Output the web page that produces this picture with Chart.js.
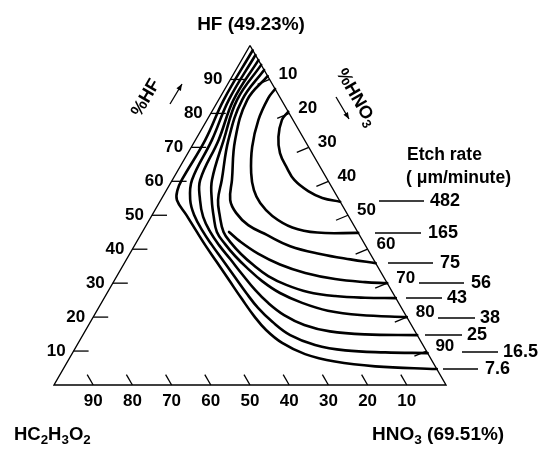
<!DOCTYPE html>
<html><head><meta charset="utf-8">
<script src="https://cdn.jsdelivr.net/npm/chart.js@4.4.0/dist/chart.umd.min.js"></script>
<style>html,body{margin:0;padding:0;background:#fff}canvas{display:block}</style>
</head><body>
<canvas id="c" width="549" height="457"></canvas>
<script>
// ---- data (ternary composition, percent) ----
const tickValues = [10, 20, 30, 40, 50, 60, 70, 80, 90];
const etchRates = ['482', '165', '75', '56', '43', '38', '25', '16.5', '7.6'];
// each curve: [HF %, HNO3 %]  (HC2H3O2 = 100 - HF - HNO3)
const curve482 = [[80.5,19.5],[78.1,19.1],[73.1,20.7],[68.3,23.5],[63.9,27.5],[60.4,31.1],[57.1,36.3],[55.1,40.9],[54.0,46.0]];
const curve165 = [[87.2,12.8],[84.5,12.4],[78.1,13.1],[70.1,15.5],[62.4,19.1],[57.4,22.3],[53.6,25.8],[49.8,30.8],[46.4,37.6],[44.9,44.7],[44.8,55.2]];
const curve75 = [[91.0,9.0],[84.0,7.3],[72.2,10.1],[60.4,15.2],[54.5,17.7],[50.7,21.1],[47.1,26.0],[44.2,32.2],[40.9,39.8],[38.6,48.6],[37.0,57.1],[35.9,64.1]];
const curve56 = [[45.1,22.1],[42.3,26.3],[38.7,32.7],[35.5,39.9],[33.0,47.6],[31.2,56.1],[30.3,64.2],[30.0,70.0]];
const curve43 = [[92.8,7.2],[84.0,6.0],[72.2,8.4],[60.4,12.6],[54.5,14.6],[49.8,17.4],[45.1,20.7],[41.8,24.3],[38.6,28.4],[35.4,33.1],[32.1,38.6],[29.5,44.5],[27.4,51.1],[26.2,58.6],[25.7,66.5],[25.6,74.4]];
const curve38 = [[94.3,5.7],[84.0,4.7],[72.2,7.2],[60.4,10.1],[54.5,13.0],[49.5,16.0],[45.1,19.0],[41.5,22.9],[38.0,27.2],[34.5,32.0],[30.6,37.8],[27.1,44.1],[24.2,51.2],[21.9,58.9],[20.6,67.8],[20.0,80.0]];
const curve25 = [[95.7,4.3],[84.0,3.8],[72.2,5.9],[60.4,7.1],[54.5,10.0],[49.5,13.3],[45.1,17.3],[41.2,21.5],[37.1,26.4],[32.7,31.6],[28.0,37.3],[24.2,42.5],[20.6,48.4],[17.7,55.0],[15.8,62.5],[14.9,71.9],[14.7,85.3]];
const curve16_5 = [[97.2,2.8],[84.0,2.6],[72.2,4.2],[60.4,5.0],[54.5,7.5],[50.1,10.7],[45.1,15.5],[41.2,19.7],[37.1,24.3],[32.1,29.9],[27.1,35.5],[22.7,40.7],[18.6,46.4],[14.7,52.9],[11.8,60.7],[10.2,69.2],[9.6,79.7],[9.4,90.6]];
const curve7_6 = [[98.6,1.4],[84.0,1.3],[72.2,2.5],[60.4,2.4],[57.4,2.8],[54.5,4.1],[50.1,8.7],[45.1,13.9],[40.9,18.3],[36.5,23.1],[30.9,29.2],[25.3,35.3],[20.3,40.9],[16.2,46.0],[12.4,52.0],[9.1,59.5],[6.9,68.2],[5.5,79.2],[4.7,95.3]];
const triangle = [[100,0],[0,0],[0,100],[100,0]];

// ---- layout (pixels) ----
const FONT = '"Liberation Sans", Arial, sans-serif';
const legendLayout = {
  y:  [201,233,263,283,298,318,335,352,369],
  x0: [379,375,388,419,406,438,425,462,443],
  x1: [424,421,433,464,442,475,462,498,478],
  tx: [430,428,440,471,447,480,467,503,485]
};

const S3 = Math.sqrt(3) / 2;
const toXY = ([hf, hno3]) => ({ x: hno3 + hf / 2, y: hf * S3 });

const curves = [curve482, curve165, curve75, curve56, curve43, curve38, curve25, curve16_5, curve7_6];
const datasets = curves.map((c, i) => ({
  label: etchRates[i], data: c.map(toXY), showLine: true, borderColor: '#000',
  borderWidth: 2.6, pointRadius: 0, tension: 0.4, fill: false, borderCapStyle: 'round', borderJoinStyle: 'round'
}));
datasets.push({ label: 'frame', data: triangle.map(toXY), showLine: true, borderColor: '#000',
  borderWidth: 1.4, pointRadius: 0, tension: 0, fill: false, borderJoinStyle: 'miter' });

function txt(ctx, s, x, y, size, align, base) {
  ctx.font = 'bold ' + size + 'px ' + FONT;
  ctx.textAlign = align || 'left';
  ctx.textBaseline = base || 'middle';
  ctx.fillText(s, x, y);
}
function subText(ctx, parts, x, y, size) {
  let cx = x;
  parts.forEach(([s, sub]) => {
    const sz = sub ? size * 0.72 : size;
    ctx.font = 'bold ' + sz + 'px ' + FONT;
    ctx.textAlign = 'left'; ctx.textBaseline = 'alphabetic';
    ctx.fillText(s, cx, sub ? y + size * 0.2 : y);
    cx += ctx.measureText(s).width;
  });
  return cx - x;
}
function line(ctx, x0, y0, x1, y1) { ctx.beginPath(); ctx.moveTo(x0, y0); ctx.lineTo(x1, y1); ctx.stroke(); }
function arrow(ctx, x0, y0, x1, y1) {
  line(ctx, x0, y0, x1, y1);
  const a = Math.atan2(y1 - y0, x1 - x0), L = 7;
  ctx.beginPath(); ctx.moveTo(x1, y1);
  ctx.lineTo(x1 - L * Math.cos(a - 0.38), y1 - L * Math.sin(a - 0.38));
  ctx.lineTo(x1 - L * Math.cos(a + 0.38), y1 - L * Math.sin(a + 0.38));
  ctx.closePath(); ctx.fill();
}

const ternaryDecor = {
  id: 'ternaryDecor',
  afterDatasetsDraw(chart) {
    const ctx = chart.ctx, sx = chart.scales.x, sy = chart.scales.y;
    const P = (hf, n) => { const p = toXY([hf, n]); return [sx.getPixelForValue(p.x), sy.getPixelForValue(p.y)]; };
    ctx.save();
    ctx.fillStyle = '#000'; ctx.strokeStyle = '#000'; ctx.lineWidth = 1.3;
    tickValues.forEach(k => {
      let [x, y] = P(k, 0);               // left edge: %HF
      line(ctx, x, y, x + 15, y);
      txt(ctx, String(k), x - 8, y, 17, 'right');
      [x, y] = P(100 - k, k);              // right edge: %HNO3
      line(ctx, x, y, x - 12, y + 5);
      txt(ctx, String(k), x + 9, y - 5, 17, 'left');
      [x, y] = P(0, 100 - k);              // bottom edge: %HC2H3O2
      line(ctx, x, y, x - 6, y - 10.4);
      txt(ctx, String(k), x, y + 16, 17, 'center');
    });
    etchRates.forEach((r, i) => {
      line(ctx, legendLayout.x0[i], legendLayout.y[i], legendLayout.x1[i], legendLayout.y[i]);
      txt(ctx, r, legendLayout.tx[i], legendLayout.y[i], 18, 'left');
    });
    txt(ctx, 'Etch rate', 407, 155, 17.5, 'left');
    txt(ctx, '( \u03bcm/minute)', 406, 178, 17.5, 'left');
    txt(ctx, 'HF (49.23%)', 251, 25, 19, 'center');
    subText(ctx, [['HC', 0], ['2', 1], ['H', 0], ['3', 1], ['O', 0], ['2', 1]], 14, 440, 18.5);
    subText(ctx, [['HNO', 0], ['3', 1], [' (69.51%)', 0]], 372, 440, 19);
    ctx.save(); ctx.translate(146, 98); ctx.rotate(-Math.PI / 3);
    txt(ctx, '%HF', 0, 0, 18, 'center'); ctx.restore();
    ctx.save(); ctx.translate(357, 97); ctx.rotate(Math.PI / 3);
    ctx.font = 'bold 18px ' + FONT;
    const w = ctx.measureText('%HNO').width + 7;
    subText(ctx, [['%HNO', 0], ['3', 1]], -w / 2, 6, 18); ctx.restore();
    ctx.lineWidth = 1.3;
    arrow(ctx, 170, 104, 182, 84);
    arrow(ctx, 336, 97, 349, 119);
    ctx.restore();
  }
};

new Chart(document.getElementById('c'), {
  type: 'scatter',
  data: { datasets },
  options: {
    responsive: false, animation: false, events: [],
    layout: { padding: 0 },
    plugins: { legend: { display: false }, tooltip: { enabled: false } },
    scales: {
      x: { type: 'linear', display: false, min: -54 / 3.92, max: -54 / 3.92 + 549 / 3.92 },
      y: { type: 'linear', display: false, min: -72 / 3.92, max: 385 / 3.92 }
    }
  },
  plugins: [ternaryDecor]
});
</script>
</body></html>
